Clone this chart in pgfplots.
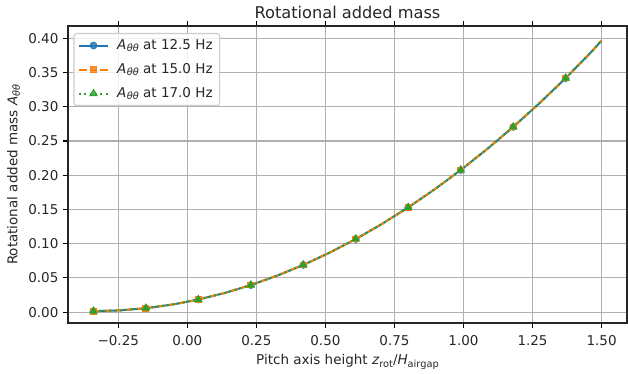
\documentclass[border=0pt]{standalone}
\usepackage{fontspec}
\setmainfont{DejaVu Sans}
\usepackage{pgfplots}
\usepackage{pgfplotstable}
\pgfplotsset{compat=1.18}
\definecolor{c0}{HTML}{1F77B4}
\definecolor{c1}{HTML}{FF7F0E}
\definecolor{c2}{HTML}{2CA02C}
\definecolor{gridc}{HTML}{B0B0B0}
\definecolor{legc}{HTML}{CCCCCC}
\newcommand\fs{\fontsize{13.5}{16}\selectfont}
\newcommand\sub[1]{\raisebox{-2.6pt}{\fontsize{9.8}{10}\selectfont #1}}
\newcommand\Att{\textit{A}\kern0.6pt\sub{\itshape θθ}}

\pgfplotstableread{
x      A
-0.340 0.0015
-0.245 0.0026
-0.150 0.0058
-0.055 0.0111
0.040  0.0185
0.135  0.0280
0.230  0.0396
0.325  0.0533
0.420  0.0690
0.515  0.0869
0.610  0.1069
0.705  0.1289
0.800  0.1531
0.895  0.1793
0.990  0.2076
1.085  0.2381
1.180  0.2706
1.275  0.3052
1.370  0.3419
1.465  0.3810
1.500  0.3968
}\dataA
\pgfplotstableread{
x      A
-0.340 0.0015
-0.245 0.0026
-0.150 0.0058
-0.055 0.0111
0.040  0.0185
0.135  0.0280
0.230  0.0396
0.325  0.0533
0.420  0.0690
0.515  0.0869
0.610  0.1069
0.705  0.1289
0.800  0.1531
0.895  0.1793
0.990  0.2076
1.085  0.2381
1.180  0.2706
1.275  0.3052
1.370  0.3419
1.465  0.3810
1.500  0.3968
}\dataB
\pgfplotstableread{
x      A
-0.340 0.0015
-0.245 0.0026
-0.150 0.0058
-0.055 0.0111
0.040  0.0185
0.135  0.0280
0.230  0.0396
0.325  0.0533
0.420  0.0690
0.515  0.0869
0.610  0.1069
0.705  0.1289
0.800  0.1531
0.895  0.1793
0.990  0.2076
1.085  0.2381
1.180  0.2706
1.275  0.3052
1.370  0.3419
1.465  0.3810
1.500  0.3968
}\dataC

\begin{document}
\begin{tikzpicture}
\useasboundingbox (-68pt,-51pt) rectangle (560pt,323pt);
\begin{axis}[
  at={(0pt,0pt)}, anchor=south west,
  scale only axis, width=559pt, height=297pt,
  xmin=-0.432, xmax=1.592, ymin=-0.0158, ymax=0.418,
  xtick={-0.25,0,0.25,0.5,0.75,1,1.25,1.5},
  xticklabels={−0.25,0.00,0.25,0.50,0.75,1.00,1.25,1.50},
  ytick={0,0.05,0.1,0.15,0.2,0.25,0.3,0.35,0.4},
  yticklabels={0.00,0.05,0.10,0.15,0.20,0.25,0.30,0.35,0.40},
  tick align=outside, major tick length=4.7pt,
  tick style={line width=1.08pt, black},
  tick label style={font=\fs, text=black!85},
  xticklabel style={inner sep=0pt, anchor=north, yshift=-7.3pt},
  yticklabel style={inner sep=0pt, anchor=east, xshift=-4.7pt},
  grid=major, major grid style={gridc, line width=1.08pt},
  axis line style={line width=1.08pt, black!85},
  title={Rotational added mass},
  title style={font=\fontsize{16.2}{19}\selectfont, at={(axis description cs:0.5,1.0067)}, anchor=base, inner sep=0pt, text=black!85},
  xlabel={Pitch axis height \textit{z}\sub{rot}/\textit{H}\sub{airgap}},
  xlabel style={font=\fs, at={(axis description cs:0.5,-0.1414)}, anchor=base, inner sep=0pt, text=black!85},
  ylabel={Rotational added mass \Att},
  ylabel style={font=\fs, at={(axis description cs:-0.0907,0.5)}, anchor=base, inner sep=0pt, text=black!85},
  legend cell align=left,
  legend style={at={(axis description cs:0,1)}, anchor=north west, xshift=5.5pt, yshift=-7pt,
    draw=legc, line width=1.08pt, rounded corners=2.7pt, fill=white, fill opacity=0.8, text opacity=1,
    font=\fs, text=black!85, inner xsep=4pt, inner ysep=4pt, row sep=8pt, column sep=5pt,
    nodes={inner xsep=3pt, inner ysep=1.5pt, text height=10pt, text depth=3pt}},
  legend image code/.code={\draw[mark indices={2}] plot coordinates {(0pt,0pt) (14.5pt,0pt) (29pt,0pt)};},
]
\addplot[c0, line width=2pt, mark=*, mark size=3.3pt, mark options={solid, line width=1pt},
  mark indices={1,3,5,7,9,11,13,15,17,19}] table[x=x,y=A] {\dataA};
\addlegendentry{\Att{} at 12.5 Hz}
\addplot[c1, line width=2pt, dash pattern=on 7.5pt off 3.2pt, mark=square*, mark size=2.9pt, mark options={solid, line width=1pt},
  mark indices={1,3,5,7,9,11,13,15,17,19}] table[x=x,y=A] {\dataB};
\addlegendentry{\Att{} at 15.0 Hz}
\addplot[c2, line width=2pt, dash pattern=on 2pt off 3.3pt, mark=triangle*, mark size=4pt, mark options={solid, line width=1pt},
  mark indices={1,3,5,7,9,11,13,15,17,19}] table[x=x,y=A] {\dataC};
\addlegendentry{\Att{} at 17.0 Hz}
\end{axis}
\end{tikzpicture}
\end{document}
